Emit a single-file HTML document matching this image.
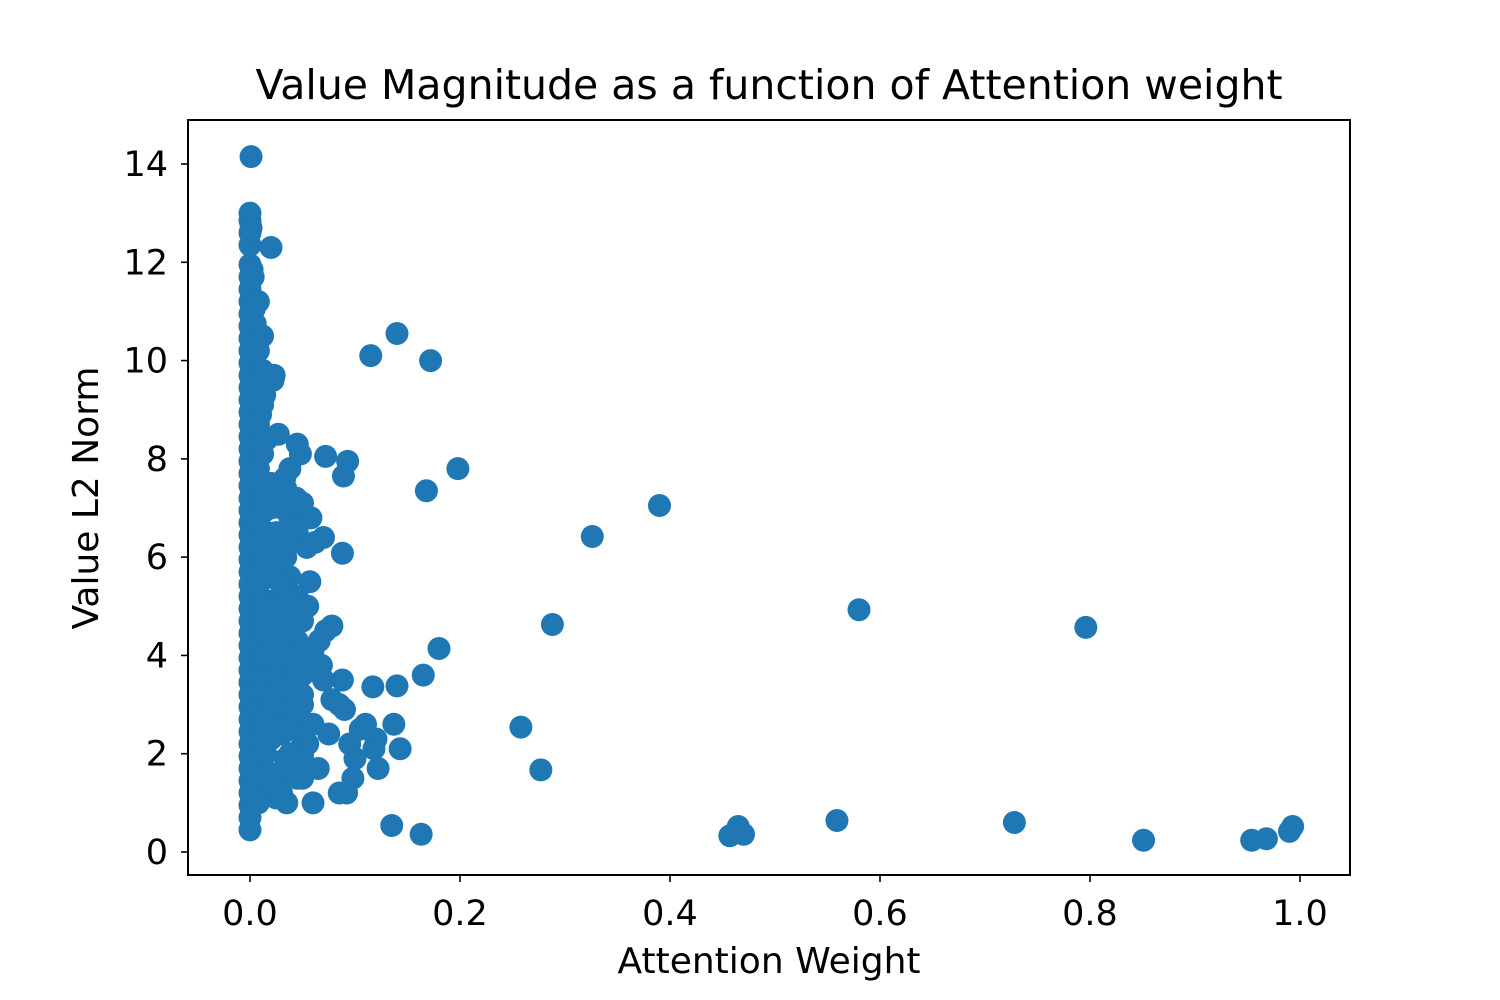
<!DOCTYPE html>
<html><head><meta charset="utf-8"><style>
body{margin:0;background:#fff}
svg{display:block;font-family:"DejaVu Sans","Liberation Sans",sans-serif}
</style></head><body>
<svg id="chart" width="1500" height="1000">
<rect width="1500" height="1000" fill="#fff"/>
<text x="769" y="99" text-anchor="middle" font-size="41">Value Magnitude as a function of Attention weight</text>
<g id="marks"></g>
<rect x="188" y="120" width="1162" height="755" fill="none" stroke="#000" stroke-width="2"/>
<g id="xt"></g>
<g id="yt"></g>
<text x="769" y="973" text-anchor="middle" font-size="36">Attention Weight</text>
<text x="98" y="498" text-anchor="middle" font-size="36" transform="rotate(-90 98 498)">Value L2 Norm</text>
</svg>
<script>
const xTicks=[0,0.2,0.4,0.6,0.8,1.0];
const xTickLabels=["0.0","0.2","0.4","0.6","0.8","1.0"];
const yTicks=[0,2,4,6,8,10,12,14];
const yTickLabels=["0","2","4","6","8","10","12","14"];
// column near zero
const colX=[0,0,0,0,0,0,0,0,0,0,0,0,0,0,0,0,0,0,0,0,0,0,0,0,0,0,0,0,0,0,0,0,0,0,0,0,0,0,0,0,0,0,0,0,0,0,0,0,0,0,0,0.001,0.001,0.002,0.003,0.004,0.005,0.006,0.008,0.01,0.012,0.014,0.005,0.008,0.01,0.012,0.006,0.009,0.011,0.007];
const colY=[0.45,0.7,0.95,1.2,1.45,1.7,1.95,2.2,2.45,2.7,2.95,3.2,3.45,3.7,3.95,4.2,4.45,4.7,4.95,5.2,5.45,5.7,5.95,6.2,6.45,6.7,6.95,7.2,7.45,7.7,7.95,8.2,8.45,8.7,8.95,9.2,9.45,9.7,9.95,10.2,10.45,10.7,10.95,11.2,11.45,11.7,11.95,12.35,12.6,12.85,13.0,14.15,12.7,11.85,11.7,11.05,10.75,9.2,8.7,8.9,9.5,9.3,7.5,6.8,5.9,5.0,4.2,3.3,2.6,1.3];
// dense fill near zero
const fillX=[0.008,0.012,0.016,0.02,0.008,0.012,0.016,0.02,0.008,0.012,0.016,0.02,0.008,0.012,0.016,0.02,0.008,0.012,0.016,0.02,0.008,0.012,0.016,0.02,0.008,0.012,0.016,0.02,0.008,0.012,0.016,0.02,0.008,0.012,0.016,0.02,0.008,0.012,0.016,0.008,0.012,0.008,0.012,0.008,0.012,0.008,0.03,0.034,0.038,0.03,0.034,0.038,0.03,0.034,0.038,0.03,0.034,0.038,0.03,0.034,0.038,0.03,0.034,0.038,0.03,0.034,0.038,0.03,0.034,0.038,0.03,0.034,0.038,0.03,0.034,0.038,0.045,0.05,0.045,0.05,0.045,0.05,0.045,0.05,0.045,0.05,0.045,0.05,0.045,0.05,0.045,0.05];
const fillY=[1.0,1.2,1.4,1.6,1.8,2.1,2.4,2.7,3.0,3.3,3.6,3.9,4.2,4.5,4.8,5.1,5.4,5.7,6.0,6.3,6.6,6.9,7.2,7.5,1.5,2.0,2.5,3.0,3.5,4.0,4.5,5.0,5.5,6.0,6.5,7.0,7.8,8.1,8.4,8.8,9.1,9.4,9.8,10.2,10.5,11.2,1.2,1.6,2.0,2.4,2.8,3.2,3.6,4.0,4.4,4.8,5.2,5.6,6.0,6.4,6.8,1.4,1.9,2.5,3.0,3.4,3.8,4.3,4.7,5.1,5.5,6.0,6.6,7.0,7.4,7.8,1.5,2.0,2.5,3.0,3.4,3.9,4.3,4.7,5.2,1.8,2.8,3.6,4.0,2.3,6.5,7.1];
// cluster 0.01-0.1
const clX=[0.02,0.023,0.022,0.027,0.033,0.045,0.048,0.044,0.035,0.042,0.058,0.025,0.03,0.04,0.054,0.062,0.057,0.07,0.072,0.078,0.066,0.055,0.06,0.048,0.04,0.035,0.028,0.02,0.025,0.03,0.045,0.05,0.068,0.07,0.078,0.088,0.09,0.085,0.095,0.1,0.11,0.105,0.12,0.122,0.118,0.098,0.085,0.092,0.06,0.035,0.025,0.02,0.05,0.065,0.075,0.055,0.04,0.03,0.015,0.018,0.022,0.03,0.04,0.05,0.06,0.015,0.02,0.025];
const clY=[12.3,9.7,9.6,8.5,7.6,8.3,8.1,7.2,7.0,6.6,6.8,6.5,6.1,6.3,6.2,6.3,5.5,6.4,4.5,4.6,4.3,5.0,4.1,4.9,4.4,5.2,5.5,5.7,4.8,3.9,3.6,3.2,3.8,3.5,3.1,3.5,2.9,3.0,2.2,1.9,2.6,2.5,2.3,1.7,2.1,1.5,1.2,1.2,1.0,1.0,1.1,1.4,1.5,1.7,2.4,2.2,2.8,3.3,2.0,2.7,3.0,2.5,2.0,1.9,2.6,1.6,2.3,4.2];
// outliers
const outX=[0.115,0.14,0.172,0.198,0.168,0.093,0.072,0.089,0.088,0.39,0.326,0.58,0.796,0.288,0.18,0.165,0.14,0.117,0.137,0.143,0.258,0.277,0.135,0.163,0.457,0.465,0.47,0.559,0.728,0.851,0.954,0.968,0.99,0.993];
const outY=[10.1,10.55,10.0,7.8,7.35,7.95,8.05,7.65,6.08,7.05,6.42,4.93,4.57,4.63,4.14,3.6,3.38,3.36,2.6,2.1,2.54,1.67,0.54,0.36,0.33,0.52,0.36,0.64,0.6,0.24,0.24,0.27,0.42,0.52];
const xs=v=>250+v*1050;
const ys=v=>852-v*(852-164)/14;
const NS="http://www.w3.org/2000/svg";
const g=document.getElementById('marks');
function addPts(xa,ya){for(let i=0;i<xa.length;i++){const c=document.createElementNS(NS,'circle');c.setAttribute('cx',xs(xa[i]));c.setAttribute('cy',ys(ya[i]));c.setAttribute('r',11.5);c.setAttribute('fill','#1f77b4');


g.appendChild(c);}}
addPts(colX,colY);addPts(fillX,fillY);addPts(clX,clY);addPts(outX,outY);
const xt=document.getElementById('xt');
xTicks.forEach((v,i)=>{const x=xs(v);const l=document.createElementNS(NS,'line');l.setAttribute('x1',x);l.setAttribute('x2',x);l.setAttribute('y1',875);l.setAttribute('y2',882);l.setAttribute('stroke','#000');l.setAttribute('stroke-width',1.6);


xt.appendChild(l);const t=document.createElementNS(NS,'text');t.setAttribute('x',x);t.setAttribute('y',925);t.setAttribute('text-anchor','middle');t.setAttribute('font-size','35');t.textContent=xTickLabels[i];


xt.appendChild(t);});
const yt=document.getElementById('yt');
yTicks.forEach((v,i)=>{const y=ys(v);const l=document.createElementNS(NS,'line');l.setAttribute('x1',181);l.setAttribute('x2',188);l.setAttribute('y1',y);l.setAttribute('y2',y);l.setAttribute('stroke','#000');l.setAttribute('stroke-width',1.6);


yt.appendChild(l);const t=document.createElementNS(NS,'text');t.setAttribute('x',168);t.setAttribute('y',y+12);t.setAttribute('text-anchor','end');t.setAttribute('font-size','35');t.textContent=yTickLabels[i];


yt.appendChild(t);});
</script>
</body></html>
